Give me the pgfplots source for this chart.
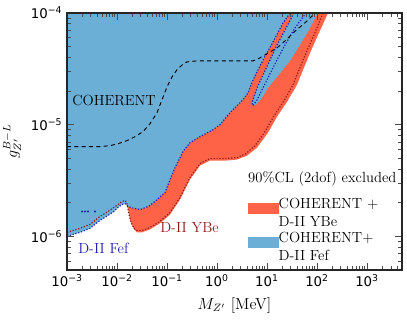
\documentclass[border=0pt]{standalone}
\usepackage{pgfplots}
\pgfplotsset{compat=1.18}
\usepackage{fontspec}
\newfontfamily\dejavu{DejaVu Sans}
\definecolor{fefblue}{RGB}{107,174,214}
\definecolor{ybered}{RGB}{255,99,71}
\definecolor{fefline}{RGB}{32,32,170}
\definecolor{ybeline}{RGB}{140,25,25}
\tikzset{dots/.style={line width=0.9pt, dash pattern=on 0.9pt off 1.3pt}}

\begin{document}
\begin{tikzpicture}
\begin{axis}[
  scale only axis, width=251.25pt, height=192.75pt,
  xmode=log, ymode=log,
  xmin=1e-3, xmax=5e3, ymin=5e-7, ymax=1e-4,
  axis on top,
  axis line style={black!85, line width=0.8pt},
  tick align=inside,
  major tick length=5pt, minor tick length=2.8pt,
  tick style={black!70, line width=0.6pt},
  xtick={1e-3,1e-2,1e-1,1,10,100,1000},
  xticklabels={10\textsuperscript{−3},10\textsuperscript{−2},10\textsuperscript{−1},10\textsuperscript{0},10\textsuperscript{1},10\textsuperscript{2},10\textsuperscript{3}},
  minor xtick={2e-3,3e-3,4e-3,5e-3,6e-3,7e-3,8e-3,9e-3,
    2e-2,3e-2,4e-2,5e-2,6e-2,7e-2,8e-2,9e-2,
    0.2,0.3,0.4,0.5,0.6,0.7,0.8,0.9,2,3,4,5,6,7,8,9,
    20,30,40,50,60,70,80,90,200,300,400,500,600,700,800,900,2000,3000,4000},
  ytick={1e-6,1e-5,1e-4},
  yticklabels={10\textsuperscript{−6},10\textsuperscript{−5},10\textsuperscript{−4}},
  minor ytick={6e-7,7e-7,8e-7,9e-7,2e-6,3e-6,4e-6,5e-6,6e-6,7e-6,8e-6,9e-6,
    2e-5,3e-5,4e-5,5e-5,6e-5,7e-5,8e-5,9e-5},
  tick label style={font=\dejavu\fontsize{10}{12}\selectfont},
  xlabel={$M_{Z'}$ [MeV]},
  ylabel={$g_{Z'}^{B-L}$},
  ylabel shift=0.5pt, xlabel shift=1pt,
  label style={font=\fontsize{12}{14}\selectfont},
  legend style={at={(rel axis cs:0.54,0.288)}, anchor=north west,
    draw=none, fill=none, inner sep=0pt, row sep=8pt,
    font=\fontsize{11}{13.2}\selectfont,
    nodes={inner sep=0pt},
    /tikz/every even column/.append style={column sep=9.75pt}},
  legend cell align=left,
]
% YBe region (under)
\addplot[draw=none, fill=ybered, forget plot] coordinates {
  (1e-3,1e-4) (1e-3,1.086e-6) (1.82e-3,1.18e-6) (2.88e-3,1.28e-6) (4.57e-3,1.51e-6)
  (6.61e-3,1.67e-6) (8.71e-3,1.82e-6) (1.05e-2,1.93e-6) (1.26e-2,2.05e-6) (1.45e-2,2.10e-6)
  (1.58e-2,1.97e-6) (1.74e-2,1.57e-6) (1.91e-2,1.31e-6) (2.19e-2,1.155e-6) (2.51e-2,1.086e-6)
  (3.16e-2,1.086e-6) (4.57e-2,1.155e-6) (7.24e-2,1.31e-6) (0.115,1.57e-6) (0.182,2.14e-6)
  (0.288,3.23e-6) (0.457,4.31e-6) (0.724,4.77e-6) (1.445,4.77e-6) (2.51,4.87e-6)
  (3.98,5.28e-6) (6.31,6.23e-6) (10.47,8.49e-6) (15.85,1.18e-5) (25.1,1.60e-5)
  (39.8,2.28e-5) (52.5,3.10e-5) (72.4,4.39e-5) (104.7,6.37e-5) (166,1e-4)
} -- cycle;
% Fef region, main part
\addplot[draw=none, fill=fefblue, forget plot] coordinates {
  (1e-3,1e-4) (1e-3,1.0e-6) (1.82e-3,1.086e-6) (2.88e-3,1.18e-6) (4.57e-3,1.39e-6)
  (6.61e-3,1.54e-6) (8.71e-3,1.67e-6) (1.05e-2,1.82e-6) (1.26e-2,1.93e-6) (1.45e-2,1.97e-6)
  (1.66e-2,1.85e-6) (2.19e-2,1.78e-6) (2.88e-2,1.74e-6) (3.80e-2,1.82e-6) (4.57e-2,1.89e-6)
  (6.03e-2,2.10e-6) (9.12e-2,2.47e-6) (0.115,3.23e-6) (0.145,4.13e-6) (0.209,5.74e-6)
  (0.288,6.90e-6) (0.457,7.81e-6) (0.832,9.02e-6) (1.148,1.0e-5) (1.82,1.28e-5)
  (3.31,1.67e-5) (4.17,1.93e-5) (5.25,2.52e-5) (7.94,3.65e-5) (13.18,5.51e-5)
  (20.9,8.15e-5) (28.8,1e-4)
} -- cycle;
% Fef region, right band
\addplot[draw=none, fill=fefblue, forget plot] coordinates {
  (34.7,1e-4) (22.9,7.05e-5) (15.85,5.18e-5) (11.48,3.80e-5) (8.32,2.79e-5)
  (6.31,2.14e-5) (5.50,1.78e-5) (5.01,1.57e-5) (5.25,1.48e-5) (6.03,1.51e-5)
  (7.94,1.74e-5) (10.47,2.14e-5) (16.6,2.74e-5) (28.8,3.73e-5) (45.7,5.18e-5)
  (69.2,7.05e-5) (104.7,1e-4)
} -- cycle;
% YBe contour
\addplot[dots, ybeline, forget plot] coordinates {
  (1e-3,1.086e-6) (1.82e-3,1.18e-6) (2.88e-3,1.28e-6) (4.57e-3,1.51e-6)
  (6.61e-3,1.67e-6) (8.71e-3,1.82e-6) (1.05e-2,1.93e-6) (1.26e-2,2.05e-6) (1.45e-2,2.10e-6)
  (1.58e-2,1.97e-6) (1.74e-2,1.57e-6) (1.91e-2,1.33e-6) (2.19e-2,1.18e-6) (2.51e-2,1.13e-6)
  (3.16e-2,1.13e-6) (4.57e-2,1.20e-6) (7.24e-2,1.36e-6) (0.115,1.64e-6) (0.182,2.23e-6)
  (0.288,3.36e-6) (0.457,4.49e-6) (0.724,4.97e-6) (1.445,4.97e-6) (2.51,5.07e-6)
  (3.80,5.51e-6) (5.75,6.49e-6) (9.12,8.66e-6) (13.8,1.20e-5) (21.9,1.64e-5)
  (33.1,2.28e-5) (43.7,3.10e-5) (60.3,4.39e-5) (87.1,6.37e-5) (131.8,1e-4)
};
% Fef contours
\addplot[dots, fefline, forget plot] coordinates {
  (1e-3,1.0e-6) (1.82e-3,1.086e-6) (2.88e-3,1.18e-6) (4.57e-3,1.39e-6)
  (6.61e-3,1.54e-6) (8.71e-3,1.67e-6) (1.05e-2,1.82e-6) (1.26e-2,1.93e-6) (1.45e-2,1.97e-6)
  (1.66e-2,1.85e-6) (2.19e-2,1.78e-6) (2.88e-2,1.74e-6) (3.80e-2,1.82e-6) (4.57e-2,1.89e-6)
  (6.03e-2,2.10e-6) (9.12e-2,2.47e-6) (0.115,3.23e-6) (0.145,4.13e-6) (0.209,5.74e-6)
  (0.288,6.90e-6) (0.457,7.81e-6) (0.832,9.02e-6) (1.148,1.0e-5) (1.82,1.28e-5)
  (3.31,1.67e-5) (4.17,1.93e-5) (5.25,2.52e-5) (7.94,3.65e-5) (13.18,5.51e-5)
  (20.9,8.15e-5) (28.8,1e-4)
};
\addplot[dots, fefline, forget plot] coordinates {
  (34.7,1e-4) (22.9,7.05e-5) (15.85,5.18e-5) (11.48,3.80e-5) (8.32,2.79e-5)
  (6.31,2.14e-5) (5.50,1.78e-5) (5.01,1.57e-5) (5.25,1.48e-5) (6.31,1.67e-5)
  (7.94,2.05e-5) (10.47,2.63e-5) (15.1,3.65e-5) (22.9,5.18e-5) (36.3,7.35e-5) (60.3,1e-4)
};
\addplot[only marks, mark=*, mark size=0.5pt, fefline, forget plot] coordinates {
  (2.0e-3,1.67e-6) (2.29e-3,1.67e-6) (2.63e-3,1.67e-6) (3.63e-3,1.67e-6)
};
% COHERENT alone
\addplot[black, line width=0.7pt, dash pattern=on 3pt off 2.5pt, forget plot] coordinates {
  (1e-3,6.36e-6) (4.57e-3,6.36e-6) (7.24e-3,6.49e-6) (1.05e-2,6.76e-6) (1.58e-2,7.20e-6)
  (2.29e-2,7.81e-6) (3.31e-2,8.66e-6) (4.57e-2,1.02e-5) (6.31e-2,1.28e-5) (7.94e-2,1.67e-5)
  (0.1,2.18e-5) (0.126,2.68e-5) (0.158,3.10e-5) (0.2,3.43e-5) (0.251,3.65e-5)
  (0.398,3.73e-5) (5.25,3.73e-5) (6.61,3.88e-5) (9.12,4.22e-5) (15.85,4.87e-5)
  (22.9,5.62e-5) (33.1,6.63e-5) (45.7,7.50e-5) (63.1,8.48e-5) (91.2,1e-4)
};
\addlegendimage{legend image code/.code={\fill[ybered] (0pt,-3.75pt) rectangle (22.5pt,3.75pt);}}
\addlegendentry{\begin{tabular}{@{}l@{}}COHERENT +\\D-II YBe\end{tabular}}
\addlegendimage{legend image code/.code={\fill[fefblue] (0pt,-3.75pt) rectangle (22.5pt,3.75pt);}}
\addlegendentry{\begin{tabular}{@{}l@{}}COHERENT+\\D-II Fef\end{tabular}}
\node[anchor=west, inner sep=0pt, font=\fontsize{11}{13}\selectfont] at (axis cs:1.26e-3,1.64e-5) {COHERENT};
\node[anchor=west, inner sep=0pt, text=fefline, font=\fontsize{11}{13}\selectfont] at (axis cs:1.66e-3,7.81e-7) {D-II Fef};
\node[anchor=west, inner sep=0pt, text=ybeline, font=\fontsize{11}{13}\selectfont] at (axis cs:7.24e-2,1.20e-6) {D-II YBe};
\node[anchor=west, inner sep=0pt, font=\fontsize{11}{13}\selectfont] at (rel axis cs:0.54,0.354) {90\%CL (2dof) excluded};
\end{axis}
\pgfresetboundingbox
\path[use as bounding box] (current axis.south west) ++(-50.25pt,-37.5pt) rectangle ++(305.25pt,240pt);
\end{tikzpicture}
\end{document}
